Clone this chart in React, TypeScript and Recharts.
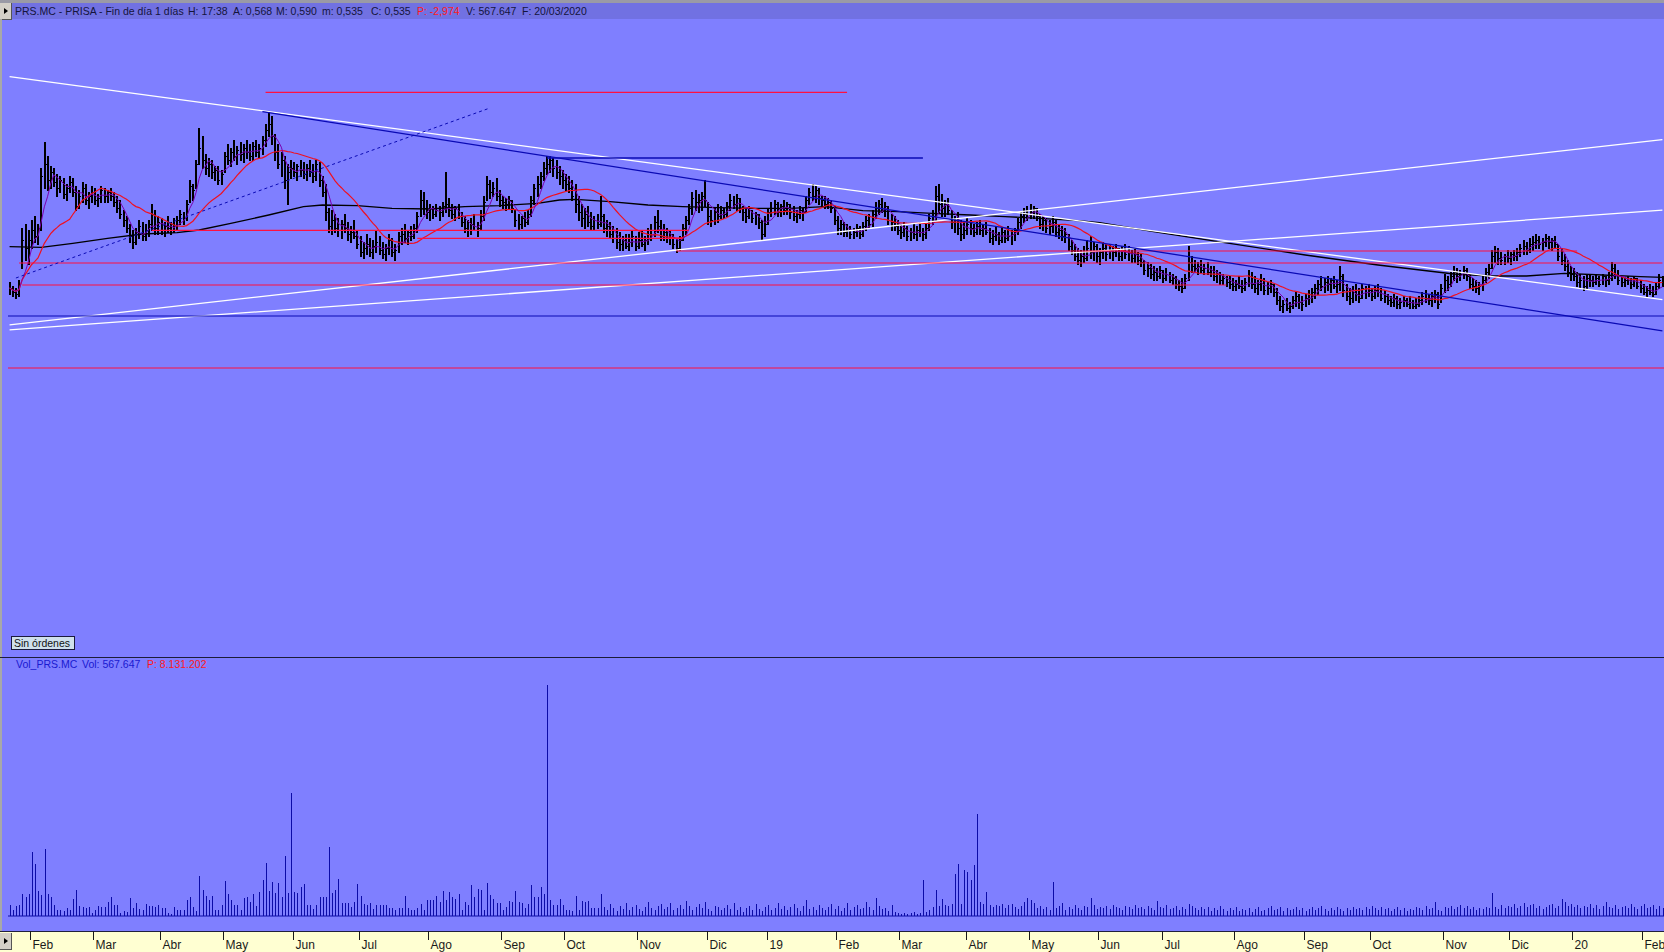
import { ComposedChart, Bar, Line, XAxis, YAxis, ReferenceLine } from "recharts";

// daily bars PRS.MC, [high, low, close] in euro cents
const bars2018: number[][] = [
  [179,173,176],[177,172,174],[176,171,173],[180,172,178],[206,186,200],[208,190,196],[205,188,200],[210,196,205],[212,199,202],[208,198,206],
  [236,205,232],[249,226,238],[242,225,230],[237,226,234],[236,227,229],[233,222,226],[232,224,230],[231,221,223],[228,220,226],[232,224,229],
  [231,222,224],[227,215,217],[225,216,222],[229,219,226],[228,218,220],[224,216,222],[227,219,224],[226,218,220],[223,217,221],[227,219,225],
  [226,219,222],[225,219,224],[226,220,222],[224,217,219],[222,214,216],[220,211,213],[215,207,210],[212,204,206],[208,199,202],[205,196,199],
  [206,198,204],[210,201,207],[209,200,202],[208,200,205],[210,202,208],[218,205,213],[215,203,206],[212,203,209],[211,203,205],[209,202,207],
  [212,204,206],[209,203,208],[211,204,205],[212,205,210],[215,208,213],[214,208,211],[220,210,218],[230,219,227],[228,220,225],[240,226,238],
  [256,238,246],[252,236,240],[243,233,236],[241,232,238],[240,231,234],[237,230,235],[237,228,230],[235,228,233],[244,234,242],[248,238,240],
  [246,237,244],[250,240,242],[247,238,245],[249,240,243],[248,239,246],[250,241,244],[248,240,242],[249,240,247],[250,242,244],[248,241,246],
  [252,243,250],[258,247,255],[264,252,258],[262,248,252],[253,240,244],[248,236,238],[244,232,240],[242,226,230],[238,218,234],[240,231,236],
  [239,232,234],[238,230,237],[240,232,235],[239,231,233],[238,230,236],[240,232,234],[238,229,232],[240,230,238],[239,227,230],[232,222,224],
  [228,210,214],[216,204,207],[215,203,210],[213,204,206],[211,202,205],[210,201,208],[213,204,206],[209,200,203],[207,199,204],[210,201,202],
  [205,196,198],[202,192,194],[199,191,196],[203,193,198],[201,192,194],[200,191,197],[205,194,199],[202,193,195],[199,191,193],[198,190,196],
  [203,193,200],[201,192,194],[198,190,195],[204,194,202],[206,198,203],[208,199,201],[205,198,204],[207,200,202],[208,201,206],[214,204,212],
  [225,212,220],[224,213,216],[220,211,214],[218,210,216],[217,211,213],[218,212,215],[217,210,214],[219,212,217],[234,214,218],[221,212,215],
  [218,211,213],[217,210,216],[218,211,212],[214,207,209],[212,204,206],[210,202,205],[211,203,208],[213,205,207],[209,202,206],[215,205,212],
  [222,210,219],[232,220,228],[230,221,224],[229,222,226],[231,220,222],[225,217,220],[222,216,219],[221,215,218],[222,216,220],[220,214,216],
  [215,207,210],[213,205,208],[212,206,211],[214,207,209],[215,208,213],[222,212,220],[228,218,226],[232,222,228],[234,226,232],[239,230,236],
  [242,233,238],[242,234,240],[241,232,236],[240,231,234],[237,228,232],[235,226,230],[233,225,228],[232,224,226],[230,220,222],[228,214,218],
  [222,210,214],[218,207,211],[216,206,213],[217,207,209],[214,205,207],[212,205,210],[213,206,208],[222,207,212],[213,204,206],[210,202,207],
  [209,201,203],[207,199,201],[206,196,199],[204,195,198],[202,195,200],[203,196,197],[203,195,199],[205,197,202],[202,195,197],[204,196,200],
  [205,197,198],[202,195,200],[206,198,203],[208,200,205],[212,202,209],[215,204,207],[210,200,202],[208,200,204],[206,199,201],[205,198,203],
  [203,196,198],[201,194,196],[202,195,200],[208,200,206],[212,203,210],[218,208,216],[224,213,221],[225,215,219],[223,214,220],[224,215,222],
  [230,217,220],[219,208,212],[215,207,210],[216,208,214],[218,209,212],[217,211,215],[216,211,213],[219,212,217],[223,215,220],[222,216,218],
  [223,215,221],[221,214,216],[217,210,214],[216,209,212],[217,211,215],[215,209,211],[214,208,213],[213,206,209],[210,200,203],[212,202,208],
];

const bars2019: number[][] = [
  [216,208,214],[219,212,216],[220,213,218],[219,212,214],[218,212,217],[220,213,215],[219,213,218],[218,211,214],[217,210,212],[215,209,213],
  [217,211,215],[216,210,214],[222,214,220],[226,218,224],[228,220,222],[227,219,225],[226,218,221],[222,217,220],[222,216,218],[221,216,219],
  [220,214,216],[217,208,210],[212,203,206],[210,203,208],[209,202,204],[208,202,205],[207,201,203],[206,201,204],[208,202,206],[207,201,203],
  [209,202,207],[212,205,210],[213,206,208],[215,207,213],[219,211,216],[220,213,218],[221,214,215],[219,212,217],[217,208,210],[213,205,209],
  [212,205,207],[210,203,205],[208,201,204],[209,202,206],[207,200,202],[206,200,204],[208,201,203],[207,200,205],[209,202,204],[206,200,203],
  [208,201,206],[213,205,211],[215,208,212],[227,210,222],[228,214,218],[223,212,216],[220,212,218],[221,213,215],[215,206,209],[212,204,210],
  [214,203,206],[210,200,203],[209,201,205],[211,203,208],[210,203,206],[208,202,204],[209,203,207],[210,203,205],[208,202,206],[209,203,204],
  [206,199,201],[205,198,202],[207,200,203],[204,198,200],[206,199,204],[205,199,201],[207,200,202],[205,198,203],[206,200,205],[211,203,209],
  [214,206,212],[216,209,213],[217,210,215],[218,211,214],[217,211,216],[216,210,212],[213,206,208],[212,205,210],[211,204,206],[210,203,207],
  [212,204,209],[210,202,204],[208,201,205],[207,200,202],[206,199,203],[203,195,197],[200,193,195],[198,190,192],[196,188,190],[195,187,192],
  [197,189,191],[200,190,196],[202,191,194],[199,190,197],[198,189,192],[196,188,194],[199,191,196],[198,190,193],[198,191,195],[197,190,194],
  [198,192,196],[196,190,192],[197,190,195],[198,191,193],[197,190,194],[195,189,191],[196,189,193],[194,188,190],[193,187,189],[190,183,185],
  [189,182,186],[188,181,183],[187,180,184],[186,180,182],[187,181,185],[185,179,181],[186,180,183],[184,179,180],[183,178,181],[182,176,178],
  [180,175,177],[181,174,176],[183,176,181],[197,180,189],[192,184,187],[190,184,186],[189,183,187],[190,184,185],[188,183,186],[189,183,184],
  [187,182,185],[187,180,182],[185,179,183],[184,178,180],[183,178,181],[182,177,179],[182,176,178],[181,175,177],[180,175,178],[182,176,177],
  [180,174,176],[181,175,179],[185,177,182],[184,176,178],[182,174,176],[180,173,178],[183,175,180],[181,173,175],[179,173,176],[180,174,178],
  [178,172,174],[176,168,170],[172,165,167],[170,164,168],[171,165,166],[169,164,167],[172,166,170],[174,167,172],[173,166,169],[172,165,168],
  [173,167,171],[175,168,173],[176,169,174],[178,171,176],[180,173,178],[182,175,177],[181,174,179],[182,175,178],[181,174,180],[182,176,177],
  [180,174,178],[187,175,182],[183,172,175],[178,170,172],[176,168,171],[177,169,174],[178,170,173],[176,169,171],[178,171,176],[177,171,174],
  [178,172,175],[176,170,172],[177,171,175],[178,172,174],[176,170,171],[175,169,172],[173,168,170],[172,167,169],[173,167,171],[172,166,168],
  [171,166,169],[172,167,170],[171,167,168],[172,166,169],[170,166,167],[171,166,168],[172,167,170],[174,168,172],[175,169,171],[173,168,170],
  [174,167,172],[175,169,173],[174,166,168],[178,169,176],[183,174,180],[182,175,178],[184,177,182],[187,180,184],[186,179,182],[185,180,183],
  [187,181,185],[186,180,182],[183,176,178],[181,175,177],[180,174,176],[179,173,177],[182,175,180],[186,179,184],[188,181,186],[195,186,192],
  [197,189,194],[196,188,191],[194,188,190],[193,188,192],[195,189,191],[194,188,193],[195,190,192],[196,190,194],[198,192,196],[200,193,197],
  [199,193,195],[201,194,198],[202,195,199],[203,196,200],[202,196,198],[201,195,199],[203,197,201],[202,196,199],[201,195,200],[202,196,198],
  [198,190,192],[196,188,190],[193,185,187],[190,182,184],[187,180,183],
];

const bars2020: number[][] = [
  [186,180,182],[184,177,179],[183,176,180],[182,175,177],[183,176,181],[183,177,180],[182,177,179],[183,178,181],[182,177,178],[183,178,182],
  [182,177,180],[184,178,181],[189,180,186],[188,181,183],[185,178,180],[182,177,179],[181,177,180],[182,178,180],[181,176,178],[182,177,181],
  [181,176,177],[180,174,176],[178,173,174],[177,172,175],[178,173,174],[177,172,173],[179,173,177],[183,176,180],[182,177,179],
];

// daily volume, millions of shares
const vol2018 = [
  1.1,0.6,1.0,1.1,2.2,1.9,2.2,6.4,5.2,2.5, 2.1,6.7,2.2,1.9,1.1,0.6,0.6,0.5,0.8,0.6,
  1.7,2.6,1.0,0.9,0.8,0.9,0.3,0.6,1.0,0.9, 0.9,1.4,1.9,1.1,1.1,0.3,0.5,0.4,1.8,0.8,
  1.3,0.7,0.6,1.2,1.0,1.0,0.9,1.1,0.8,0.8, 0.3,0.2,0.9,0.6,0.6,0.6,1.6,1.9,0.9,0.5,
  4.0,2.6,2.0,1.6,2.0,0.6,0.6,1.1,3.5,2.2, 1.6,1.1,1.1,0.6,1.8,1.9,1.4,2.2,1.0,2.4,
  3.6,5.3,2.5,3.4,2.3,3.3,1.9,6.0,2.3,12.3, 2.4,2.3,2.9,3.2,1.1,1.1,0.7,1.1,1.9,1.9,
  1.9,6.9,2.3,2.6,3.7,1.3,1.3,1.3,0.9,1.4, 3.2,2.0,1.2,1.1,1.3,0.7,1.1,1.1,1.1,1.1,
  0.8,0.8,0.6,0.8,0.8,2.0,0.8,0.6,0.6,0.8, 1.2,0.6,1.6,1.6,1.6,2.0,1.4,2.5,1.6,2.4,
  1.9,1.7,2.2,0.6,1.4,1.1,3.1,1.9,2.7,2.6, 0.6,3.3,2.1,1.7,1.3,1.3,0.6,0.9,1.5,1.4,
  2.5,1.4,1.3,0.8,1.2,3.1,1.9,1.9,2.9,2.2, 23.1,1.6,1.1,1.1,1.7,1.1,0.6,0.6,0.5,2.0,
  0.6,1.5,1.4,1.5,0.8,0.8,0.8,2.2,0.9,0.6, 1.2,0.8,0.5,1.0,0.7,1.3,0.6,0.9,1.1,0.7,
  0.5,0.9,1.4,0.8,0.6,1.0,1.2,0.7,0.9,1.3, 0.6,0.8,1.1,0.7,1.5,1.0,0.6,0.9,1.2,0.8,
  1.4,0.7,0.5,1.0,0.9,0.6,0.8,1.1,0.7,1.3, 0.6,0.9,0.4,0.8,1.0,0.6,1.2,0.7,0.5,0.9,
];
const vol2019 = [
  1.1,0.6,0.8,1.3,0.7,1.0,0.6,0.9,1.2,0.8, 0.5,1.0,1.6,0.7,0.9,0.6,1.1,0.8,0.6,0.9,
  1.2,0.7,1.0,0.5,0.8,1.3,0.6,0.9,1.1,0.7, 0.8,1.4,0.9,0.6,1.8,1.0,0.7,0.8,0.5,1.1,
  0.4,0.3,0.2,0.3,0.2,0.3,0.4,0.2,0.3,3.6, 0.4,0.6,0.9,2.6,1.0,1.7,1.1,1.0,1.2,4.2,
  5.2,1.2,4.6,4.4,3.6,5.1,10.2,1.4,1.2,2.4, 1.1,0.9,1.1,1.0,1.2,0.8,1.1,1.2,0.9,0.7,
  1.0,1.4,1.8,1.6,1.3,0.8,1.0,0.7,0.9,0.6, 3.4,0.8,1.0,1.3,0.6,0.9,0.7,1.1,0.8,0.6,
  1.0,0.9,1.8,1.1,0.7,0.9,0.8,1.0,0.7,1.1, 0.9,0.8,0.6,1.0,0.9,0.7,1.1,0.8,0.9,0.7,
  1.0,0.8,0.6,1.5,0.9,0.8,1.1,0.7,0.8,1.0, 0.6,0.9,0.7,1.2,1.0,0.8,0.6,0.9,0.7,0.9,
  0.5,0.8,0.6,1.0,0.7,0.5,0.8,0.6,0.9,0.5, 0.7,0.6,0.8,0.4,0.7,0.9,0.5,0.6,0.8,1.0,
  0.6,0.7,0.9,0.5,0.8,0.6,0.7,0.9,0.6,0.8, 0.5,0.7,0.9,0.6,0.8,1.0,0.7,0.5,0.8,0.6,
  0.9,0.7,0.5,0.8,0.6,0.9,0.7,0.8,0.6,0.9, 0.7,1.0,0.8,0.6,0.9,0.7,0.8,0.5,0.7,0.9,
  0.6,0.8,0.5,0.7,0.6,0.9,0.8,0.6,1.0,0.7, 0.8,1.4,0.6,0.5,0.9,0.8,1.0,0.7,0.9,1.1,
  0.8,1.0,0.7,0.9,0.6,0.8,0.7,0.9,0.8,2.3, 0.9,0.7,1.1,0.8,1.0,0.9,1.2,0.8,1.0,1.3,
  0.9,1.1,1.2,0.8,1.0,0.7,0.9,1.1,1.2,0.8, 1.0,1.7,1.4,1.0,1.2,
];
const vol2020 = [
  0.9,1.1,0.8,1.0,0.9,1.2,0.8,1.1,0.7,1.0, 1.4,0.9,0.8,1.1,0.7,0.9,1.0,0.8,1.2,0.9,
  0.7,1.0,1.2,0.8,0.9,1.1,0.7,1.0,0.8,
];

// months on the time axis and how many sessions each one holds on screen
const monthLabels = ["Ene","Feb","Mar","Abr","May","Jun","Jul","Ago","Sep","Oct","Nov","Dic","19","Feb","Mar","Abr","May","Jun","Jul","Ago","Sep","Oct","Nov","Dic","20","Feb"];
const monthSessions = [7,20,21,20,22,21,22,23,20,23,22,19,22,20,21,20,22,20,23,22,21,23,21,20,22,7];

// 200-session average (history before the window is not shown)
const ma200Bars = [0,10,20,31,42,53,60,70,82,93,99,110,121,133,144,155,167,174,179,190,202,213,224,236,247,258,270,281,292,304,315,326,338,345,362,386,410,433,457,469,480,492,504,516,523];
const ma200Vals = [196.7,196.3,198.3,200.8,203,203.7,205,208.3,212.5,216.7,217.5,217.2,215.8,215.5,216.7,217.2,218.3,220,220.3,219.2,217.5,216.7,216.2,215.8,215.8,216.7,214.7,214.2,213.3,212.5,211.7,210.8,209.7,208.7,204.2,198.3,192.5,187.5,183,182,182,183.3,182.5,181.7,181.3];

// drawn annotations: [fromBar, fromPrice, toBar, toPrice]
const whiteLines = [
  [0, 281.7, 523, 170.2],
  [0, 157.6, 523, 250.2],
  [0, 155.1, 523, 214.9],
];
const blueLines = [
  [80, 264.2, 523, 154.6],
  [170, 241, 289, 241],
];
const blueDashed = [2, 181, 152, 266];
const redLines = [
  [81, 273.8, 265, 273.8],
  [45, 204.8, 215, 204.8],
  [129, 200.8, 213, 200.8],
  [211, 194.5, 496, 194.5],
  [3, 188.5, 523, 188.5],
  [4, 177.5, 385, 177.5],
];
const fullWidthLines = [
  { price: 162, color: "#0a0ab4" },
  { price: 136, color: "#ff1040" },
];

const allBars = [...bars2018, ...bars2019, ...bars2020];
const allVol = [...vol2018, ...vol2019, ...vol2020];
const closes = allBars.map((b) => b[2]);

const sma = (i: number, n: number) => {
  const from = Math.max(0, i - n + 1);
  let s = 0;
  for (let k = from; k <= i; k++) s += closes[k];
  return s / (i - from + 1);
};

const ma200ByBar = new Map(ma200Bars.map((b, k) => [b, ma200Vals[k]]));

const data = allBars.map(([h, l, c], i) => ({
  i,
  h,
  l,
  c,
  v: allVol[i],
  ma5: sma(i, 5),
  ma20: sma(i, 20),
  ma200: ma200ByBar.get(i),
}));

const monthStarts: number[] = [];
const tickText = new Map<number, string>();
monthSessions.reduce((start, n, k) => {
  if (k > 0) {
    monthStarts.push(start);
    tickText.set(start, monthLabels[k]);
  }
  return start + n;
}, 0);

const FONT = '"Liberation Sans", Arial, sans-serif';
const W = 1664;

const HlcBar = (props: any) => {
  const { x, y, width, height, payload } = props;
  if (x == null || y == null) return null;
  const top = Math.min(y, y + height);
  const bot = Math.max(y, y + height);
  const cx = Math.round(x + width / 2);
  const span = payload.h - payload.l || 1;
  const yc = Math.round(top + ((payload.h - payload.c) / span) * (bot - top)) + 0.5;
  return (
    <g shapeRendering="crispEdges">
      <line x1={cx} x2={cx} y1={top} y2={bot + 1} stroke="#000" strokeWidth={2} />
      <line x1={cx} x2={cx + 2} y1={yc} y2={yc} stroke="#000" />
    </g>
  );
};

const VolLine = (props: any) => {
  const { x, y, width, height } = props;
  if (!height) return null;
  const cx = Math.round(x + width / 2) + 0.5;
  return <line x1={cx} x2={cx} y1={y} y2={y + height} stroke="#0c0ca6" shapeRendering="crispEdges" />;
};

const MonthTick = (props: any) => {
  const { x, payload } = props;
  const tx = Math.round(x - 1.5) + 0.5;
  return (
    <g>
      <line x1={tx} x2={tx} y1={271} y2={280} stroke="#1a1a1a" shapeRendering="crispEdges" />
      <text x={tx + 2} y={289} fontSize={12} fill="#1a1a1a" fontFamily={FONT}>
        {tickText.get(payload.value)}
      </text>
    </g>
  );
};

const titleParts = [
  { x: 15, t: "PRS.MC - PRISA - Fin de día 1 días", red: false },
  { x: 188, t: "H: 17:38", red: false },
  { x: 233, t: "A: 0,568", red: false },
  { x: 276, t: "M: 0,590", red: false },
  { x: 322, t: "m: 0,535", red: false },
  { x: 371, t: "C: 0,535", red: false },
  { x: 417, t: "P: -2,974", red: true },
  { x: 466, t: "V: 567.647", red: false },
  { x: 522, t: "F: 20/03/2020", red: false },
];

const volParts = [
  { x: 16, t: "Vol_PRS.MC", red: false },
  { x: 82, t: "Vol: 567.647", red: false },
  { x: 147, t: "P: 8.131.202", red: true },
];

const Arrow = ({ top }: { top: number }) => (
  <div style={{ position: "absolute", left: 0, top, width: 11, height: 16, background: "#d4d0c8", borderRight: "1px solid #555", borderBottom: "1px solid #555" }}>
    <svg width={11} height={16}>
      <path d="M4 5 L8 8 L4 11 Z" fill="#000" />
    </svg>
  </div>
);

export default function App() {
  return (
    <div style={{ position: "absolute", left: 0, top: 0, width: W, height: 952, background: "#7f7fff", overflow: "hidden", fontFamily: FONT }}>
      <div style={{ position: "absolute", left: 0, top: 0, width: W, height: 3, background: "#9a9aa6" }} />
      <div style={{ position: "absolute", left: 0, top: 3, width: W, height: 16, background: "#7171e2" }} />
      {titleParts.map((p) => (
        <div key={p.x} style={{ position: "absolute", left: p.x, top: 4, fontSize: 10.5, lineHeight: "14px", whiteSpace: "nowrap", color: p.red ? "#ff1a1a" : "#14143c" }}>
          {p.t}
        </div>
      ))}
      <Arrow top={3} />
      <div style={{ position: "absolute", left: 0, top: 19, width: 2, height: 913, background: "#a8a8a8" }} />

      <div style={{ position: "absolute", left: 0, top: 931, width: W, height: 21, background: "#ffffd2", borderTop: "1px solid #20203c" }} />
      <Arrow top={933} />

      <div style={{ position: "absolute", left: 0, top: 0 }}>
        <ComposedChart width={W} height={660} data={data} margin={{ top: 20, right: 0, bottom: 2, left: 8 }}>
          <XAxis dataKey="i" type="category" hide />
          <YAxis type="number" domain={[-9, 310]} hide allowDataOverflow />
          <Bar dataKey={(d: any) => [d.l, d.h]} shape={HlcBar} isAnimationActive={false} />
          <Line dataKey="ma200" type="linear" stroke="#000000" strokeWidth={1.3} dot={false} connectNulls isAnimationActive={false} />
          <Line dataKey="ma20" type="linear" stroke="#f01020" strokeWidth={1.2} dot={false} isAnimationActive={false} />
          <Line dataKey="ma5" type="linear" stroke="#7a00b0" strokeWidth={1} dot={false} isAnimationActive={false} />
          {whiteLines.map(([x1, y1, x2, y2], k) => (
            <ReferenceLine key={`w${k}`} segment={[{ x: x1, y: y1 }, { x: x2, y: y2 }]} stroke="#ffffff" strokeWidth={1.3} />
          ))}
          {redLines.map(([x1, y1, x2, y2], k) => (
            <ReferenceLine key={`r${k}`} segment={[{ x: x1, y: y1 }, { x: x2, y: y2 }]} stroke="#ff1040" strokeWidth={1.2} />
          ))}
          {fullWidthLines.map((l) => (
            <ReferenceLine key={l.price} y={l.price} stroke={l.color} strokeWidth={1.2} />
          ))}
          {blueLines.map(([x1, y1, x2, y2], k) => (
            <ReferenceLine key={`b${k}`} segment={[{ x: x1, y: y1 }, { x: x2, y: y2 }]} stroke="#0a0ab4" strokeWidth={1.3} />
          ))}
          <ReferenceLine
            segment={[{ x: blueDashed[0], y: blueDashed[1] }, { x: blueDashed[2], y: blueDashed[3] }]}
            stroke="#0a0ab4"
            strokeDasharray="3 3"
          />
        </ComposedChart>
      </div>

      <div style={{ position: "absolute", left: 0, top: 657, width: W, height: 1, background: "#1c1c38" }} />
      {volParts.map((p) => (
        <div key={p.x} style={{ position: "absolute", left: p.x, top: 658, fontSize: 10.5, lineHeight: "13px", whiteSpace: "nowrap", color: p.red ? "#ff1a1a" : "#1a1ad0" }}>
          {p.t}
        </div>
      ))}
      <div style={{ position: "absolute", left: 11, top: 636, width: 60, height: 12, background: "#cfe0ec", border: "1px solid #1a1a3c", fontSize: 10.5, lineHeight: "12px", paddingLeft: 2, color: "#111", whiteSpace: "nowrap" }}>
        Sin órdenes
      </div>

      <div style={{ position: "absolute", left: 0, top: 660 }}>
        <ComposedChart width={W} height={292} data={data} margin={{ top: 16, right: 0, bottom: 0, left: 8 }}>
          <XAxis dataKey="i" type="category" height={36} ticks={monthStarts} interval={0} axisLine={false} tickLine={false} tick={MonthTick} />
          <YAxis type="number" domain={[0, 24]} hide allowDataOverflow />
          <Bar dataKey="v" shape={VolLine} isAnimationActive={false} />
          <ReferenceLine y={0} stroke="#0c0ca6" strokeWidth={1.2} />
        </ComposedChart>
      </div>
    </div>
  );
}
